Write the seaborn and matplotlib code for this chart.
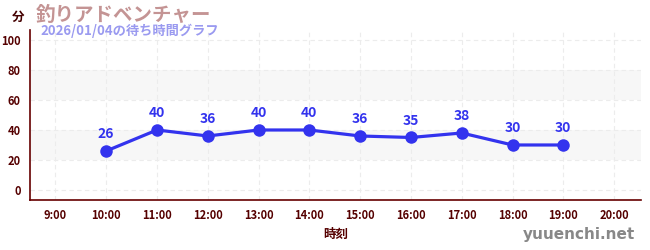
import matplotlib
matplotlib.use("Agg")
import matplotlib.pyplot as plt
import seaborn as sns
import pandas as pd
from matplotlib.ticker import MultipleLocator

hours = [10, 11, 12, 13, 14, 15, 16, 17, 18, 19]
waits = [26, 40, 36, 40, 40, 36, 35, 38, 30, 30]
xtick_hours = list(range(9, 21))
xtick_labels = [f"{h}:00" for h in xtick_hours]
yticks = [0, 20, 40, 60, 80, 100]
title = "釣りアドベンチャー"
subtitle = "2026/01/04の待ち時間グラフ"

sns.set_style("white")
plt.rcParams['font.family'] = ['Noto Sans CJK JP', 'DejaVu Sans']

df = pd.DataFrame({"hour": hours, "wait": waits})

fig = plt.figure(figsize=(6.5, 2.5), dpi=100)
ax = fig.add_axes([30/650, 50/250, 611/650, 170/250])

spine_c = "#660000"
line_c = "#3333ee"

ax.set_xlim(8.5, 20.53)
ax.set_ylim(-6.7, 106.7)

for lo, hi in [(20, 40), (60, 80)]:
    ax.axhspan(lo, hi, color="#f7f7f7", zorder=0, lw=0)

ax.set_yticks(yticks)
ax.yaxis.set_minor_locator(MultipleLocator(10))
ax.set_xticks(xtick_hours)
ax.set_xticklabels(xtick_labels)
ax.grid(True, which="major", color="#ececec", ls=(0, (4, 3)), lw=0.8, zorder=0.5)

sns.lineplot(data=df, x="hour", y="wait", ax=ax, color=line_c, lw=2.3,
             marker="o", markersize=9, markeredgewidth=0, zorder=3)

for h, w in zip(hours, waits):
    ax.annotate(str(w), (h, w), xytext=(0, 7), textcoords="offset points",
                ha="center", va="bottom", color=line_c, fontsize=10,
                fontweight="bold", zorder=4)

for s in ["top", "right"]:
    ax.spines[s].set_visible(False)
for s in ["left", "bottom"]:
    ax.spines[s].set_color(spine_c)
    ax.spines[s].set_linewidth(1.2)

ax.tick_params(axis="both", which="major", direction="out", length=4,
               color=spine_c, labelcolor="#550000", labelsize=8)
ax.tick_params(axis="y", which="minor", direction="out", length=3,
               color="#dd2222", width=1)
ax.tick_params(axis="y", which="major", direction="inout", length=6, width=1)
ax.tick_params(axis="x", which="major", direction="inout", length=6, width=1)
for lab in ax.get_xticklabels() + ax.get_yticklabels():
    lab.set_fontweight("bold")

ax.set_xlabel("時刻", color="#550000", fontsize=9, fontweight="bold", labelpad=4)
ax.set_ylabel("")

fig.text(18/650, 1 - 17/250, "分", color="#440000", fontsize=9,
         fontweight="bold", ha="center", va="center")
fig.text(36/650, 1 - 15/250, title, color="#c49494", fontsize=14,
         fontweight="bold", ha="left", va="center")
fig.text(40/650, 1 - 31/250, subtitle, color="#9a9af0", fontsize=9.5,
         fontweight="bold", ha="left", va="center")
fig.text(635/650, 1 - 235/250, "yuuenchi.net", color="#888888", fontsize=11,
         fontweight="bold", ha="right", va="center", family=["DejaVu Sans"])

fig.savefig("out.png", dpi=100)
